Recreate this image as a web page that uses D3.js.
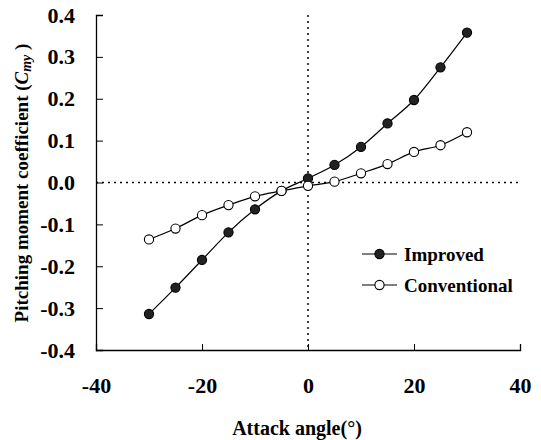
<!DOCTYPE html>
<html><head><meta charset="utf-8">
<script src="https://cdn.jsdelivr.net/npm/d3@7"></script>
<style>body{margin:0;background:#fff}svg{display:block}text{font-family:"Liberation Serif","Times New Roman",serif;font-weight:bold;fill:#000}</style>
</head><body>
<svg id="c" width="541" height="440"></svg>
<script>
const angles = [-30,-25,-20,-15,-10,-5,0,5,10,15,20,25,30];
const improved = [-0.314,-0.251,-0.185,-0.119,-0.064,-0.020,0.010,0.042,0.085,0.141,0.197,0.275,0.358];
const conventional = [-0.136,-0.110,-0.078,-0.054,-0.033,-0.020,-0.008,0.002,0.022,0.044,0.073,0.089,0.120];
const xTicks = [-40,-20,0,20,40];
const yTicks = [-0.4,-0.3,-0.2,-0.1,0.0,0.1,0.2,0.3,0.4];
const seriesNames = ["Improved","Conventional"];

const svg = d3.select("#c");
const x = d3.scaleLinear().domain([-40,40]).range([96,520]);
const y = d3.scaleLinear().domain([-0.4,0.4]).range([350,15]);

// dotted reference lines
svg.append("line").attr("x1",x(-40)).attr("x2",x(40)).attr("y1",y(0)).attr("y2",y(0))
  .attr("stroke","#000").attr("stroke-width",1.5).attr("stroke-dasharray","2,4");
svg.append("line").attr("x1",x(0)).attr("x2",x(0)).attr("y1",y(0.4)).attr("y2",y(-0.4))
  .attr("stroke","#000").attr("stroke-width",1.5).attr("stroke-dasharray","2,4");

// axes
const yAxis = d3.axisLeft(y).tickValues(yTicks).tickSize(-7).tickPadding(21).tickFormat(d => d.toFixed(1));
const gy = svg.append("g").attr("transform",`translate(${x(-40)},0)`).call(yAxis);
gy.select(".domain").attr("stroke-width",1.3);
gy.selectAll("text").style("font-size","22px").attr("font-family","Liberation Serif").attr("font-weight","bold");

const xAxis = d3.axisBottom(x).tickValues(xTicks).tickSize(-6).tickPadding(27).tickFormat(d => String(d));
const gx = svg.append("g").attr("transform",`translate(0,${y(-0.4)})`).call(xAxis);
gx.select(".domain").attr("stroke-width",1.3);
gx.selectAll("text").style("font-size","22px").attr("font-family","Liberation Serif").attr("font-weight","bold");

// axis titles
svg.append("text").attr("x",297).attr("y",435).attr("text-anchor","middle").style("font-size","20px")
  .text("Attack angle(°)");
const yt = svg.append("text").attr("transform","translate(28,183) rotate(-90)").attr("text-anchor","middle").style("font-size","19px");
yt.append("tspan").text("Pitching moment coefficient (");
yt.append("tspan").attr("font-style","italic").text("C");
yt.append("tspan").attr("font-style","italic").attr("dy",3).style("font-size","14px").text("my");
yt.append("tspan").attr("dy",-3).text(" )");

// series
const line = d3.line().x((d,i)=>x(angles[i])).y(d=>y(d)).curve(d3.curveMonotoneX);
const series = [{name:seriesNames[0],vals:improved,fill:"#222"},{name:seriesNames[1],vals:conventional,fill:"#fff"}];
series.slice().reverse().forEach(s=>{
  svg.append("path").datum(s.vals).attr("d",line).attr("fill","none").attr("stroke","#000").attr("stroke-width",1.2);
});
series.forEach(s=>{
  svg.selectAll(null).data(s.vals).enter().append("circle")
    .attr("cx",(d,i)=>x(angles[i])).attr("cy",d=>y(d)).attr("r",4.6)
    .attr("fill",s.fill).attr("stroke","#000").attr("stroke-width",1.1);
});

// legend
const lg = [254,285];
series.forEach((s,i)=>{
  const g = svg.append("g").attr("transform",`translate(0,${lg[i]})`);
  g.append("line").attr("x1",362).attr("x2",397).attr("y1",0).attr("y2",0).attr("stroke","#000").attr("stroke-width",1.2);
  g.append("circle").attr("cx",379.5).attr("cy",0).attr("r",4.6).attr("fill",s.fill).attr("stroke","#000").attr("stroke-width",1.1);
  g.append("text").attr("x",404).attr("y",6.5).style("font-size","19px").text(s.name);
});
</script>
</body></html>
